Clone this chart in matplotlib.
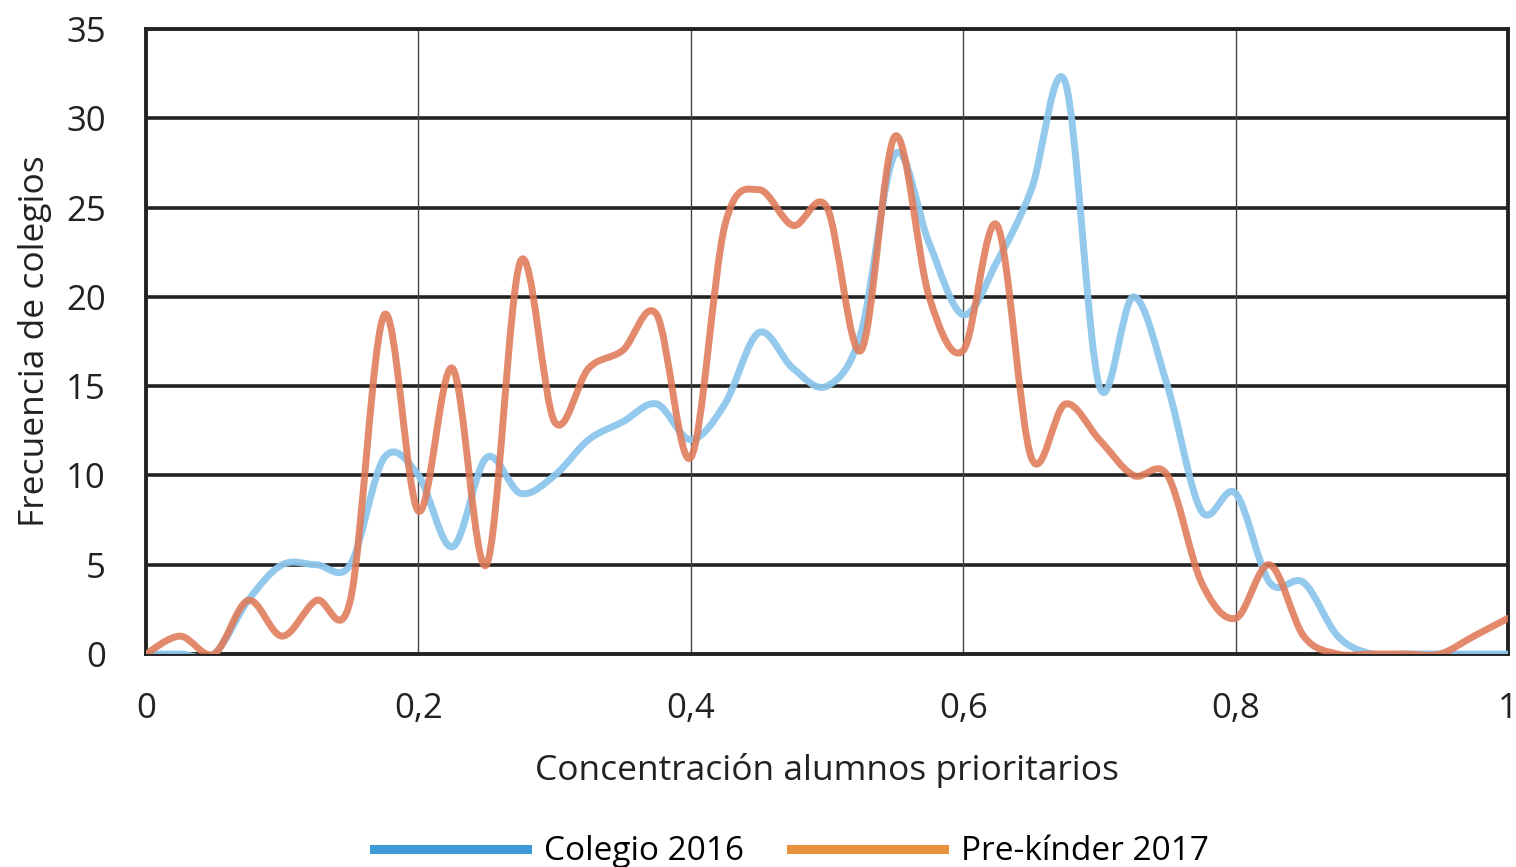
import numpy as np
import matplotlib
matplotlib.use("Agg")
import matplotlib.pyplot as plt
from matplotlib.path import Path
from matplotlib.patches import PathPatch
from matplotlib.lines import Line2D

plt.rcParams['font.family'] = ['Open Sans', 'DejaVu Sans']

# ---- data ----
x_vals = [round(i * 0.025, 3) for i in range(41)]
colegio_2016 = [0, 0, 0, 3, 5, 5, 5, 11, 10, 6, 11, 9, 10, 12, 13, 14, 12, 14, 18, 16,
                15, 18, 28, 23, 19, 22, 26, 32, 15, 20, 15, 8, 9, 4, 4, 1, 0, 0, 0, 0, 0]
prekinder_2017 = [0, 1, 0, 3, 1, 3, 3, 19, 8, 16, 5, 22, 13, 16, 17, 19, 11, 24, 26, 24,
                  25, 17, 29, 20, 17, 24, 11, 14, 12, 10, 10, 4, 2, 5, 1, 0, 0, 0, 0, 1, 2]
series_names = ["Colegio 2016", "Pre-kínder 2017"]
x_ticks = [0, 0.2, 0.4, 0.6, 0.8, 1]
x_tick_labels = ["0", "0,2", "0,4", "0,6", "0,8", "1"]
y_ticks = [0, 5, 10, 15, 20, 25, 30, 35]


def smooth_path(xs, ys):
    """Catmull-Rom style Bezier path through the points (like Excel smoothing)."""
    xs = np.asarray(xs, float)
    ys = np.asarray(ys, float)
    pts = np.column_stack([xs, ys])
    n = len(pts)
    verts = [pts[0]]
    codes = [Path.MOVETO]
    for i in range(n - 1):
        p0 = pts[i - 1] if i > 0 else pts[i]
        p1 = pts[i]
        p2 = pts[i + 1]
        p3 = pts[i + 2] if i + 2 < n else pts[i + 1]
        c1 = p1 + (p2 - p0) / 6.0
        c2 = p2 - (p3 - p1) / 6.0
        verts += [c1, c2, p2]
        codes += [Path.CURVE4] * 3
    return Path(verts, codes)


fig = plt.figure(figsize=(15.16, 8.67), dpi=100)
ax = fig.add_axes([146 / 1516, 1 - 654 / 867, (1508 - 146) / 1516, (654 - 29) / 867])

blue_line = '#8cc6ec'
orange_line = '#e07a58'

ax.add_patch(PathPatch(smooth_path(x_vals, colegio_2016), facecolor='none',
                       edgecolor=blue_line, lw=5.0, alpha=0.95, zorder=3,
                       capstyle='round', joinstyle='round'))
ax.add_patch(PathPatch(smooth_path(x_vals, prekinder_2017), facecolor='none',
                       edgecolor=orange_line, lw=5.0, alpha=0.88, zorder=4,
                       capstyle='round', joinstyle='round'))
# invisible plot to register the data range
ax.plot(x_vals, colegio_2016, alpha=0)

ax.set_xlim(0, 1)
ax.set_ylim(0, 35)
ax.set_xticks(x_ticks)
ax.set_xticklabels(x_tick_labels)
ax.set_yticks(y_ticks)

for y in y_ticks[1:-1]:
    ax.axhline(y, color='#222222', lw=2.6, zorder=1)
for xv in x_ticks[1:-1]:
    ax.axvline(xv, color='#444444', lw=1.0, zorder=1)

for s in ax.spines.values():
    s.set_color('#222222')
    s.set_linewidth(2.8)

ax.tick_params(axis='both', length=0, labelsize=25, colors='#222222')
ax.tick_params(axis='x', pad=27)
ax.tick_params(axis='y', pad=29)
for lbl in ax.get_yticklabels():
    lbl.set_horizontalalignment('right')

ax.set_xlabel("Concentración alumnos prioritarios", fontsize=25.5, color='#222222', labelpad=20)
ax.set_ylabel("Frecuencia de colegios", fontsize=25.5, color='#222222', labelpad=10)

handles = [Line2D([], [], color='#3f9bd8', lw=6.5),
           Line2D([], [], color='#e8913c', lw=6.5)]
fig.legend(handles, series_names, loc='lower center', bbox_to_anchor=(0.522, -0.036),
           ncol=2, frameon=False, fontsize=24, handlelength=4.6, columnspacing=1.4,
           handletextpad=0.5)

fig.savefig("out.png", dpi=100, facecolor='white')
